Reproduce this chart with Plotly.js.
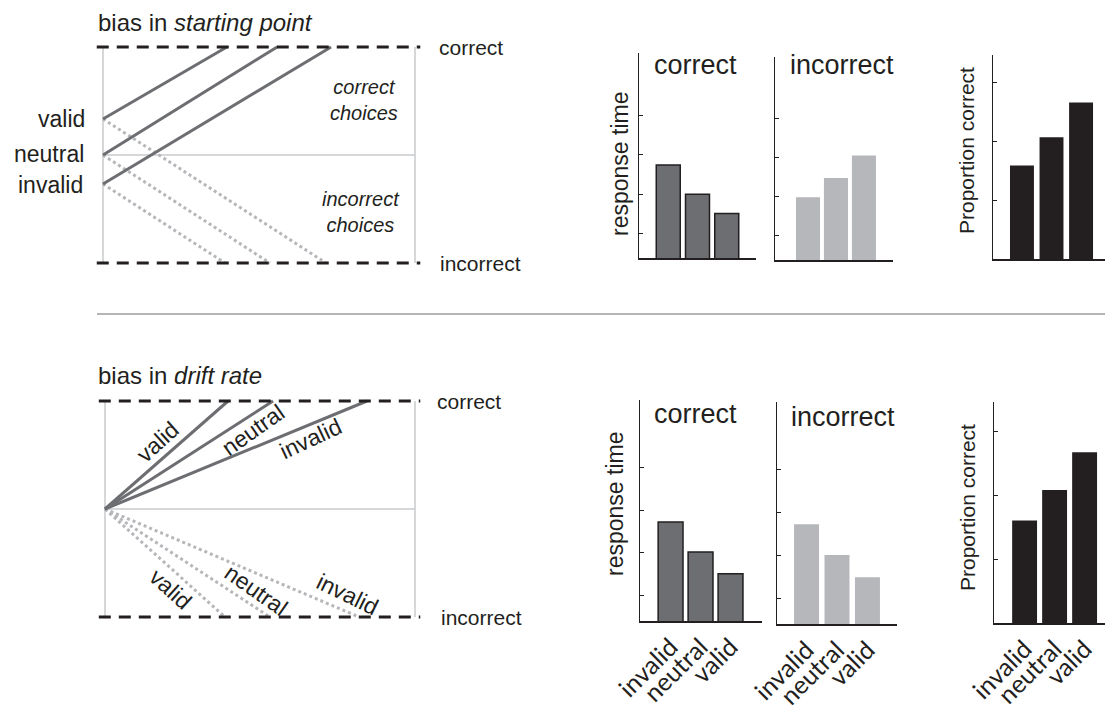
<!DOCTYPE html>
<html><head><meta charset="utf-8">
<script src="https://cdn.plot.ly/plotly-3.0.1.min.js"></script>
<style>html,body{margin:0;padding:0;background:#fff}#chart{width:1105px;height:715px}</style>
</head><body><div id="chart"></div>
<script>
// ---------------- data ----------------
const conditions = ['valid', 'neutral', 'invalid'];
// starting-point bias diagram (time 0..1, evidence 0 = incorrect bound, 1 = correct bound)
const spStart = [0.667, 0.5, 0.366];
const spTimeCorrect = [0.397, 0.558, 0.731];
const spTimeIncorrect = [0.715, 0.535, 0.391];
// drift-rate bias diagram
const drStart = [0.5, 0.5, 0.5];
const drTimeCorrect = [0.397, 0.542, 0.845];
const drTimeIncorrect = [0.387, 0.532, 0.82];
// bar charts
const barCats = ['invalid', 'neutral', 'valid'];
const spRTCorrect = [574, 500, 451];
const spRTIncorrect = [499, 548, 606];
const spPropCorrect = [0.659, 0.707, 0.766];
const drRTCorrect = [572, 502, 451];
const drRTIncorrect = [573, 501, 449];
const drPropCorrect = [0.661, 0.709, 0.768];
const rtTicks = [400, 500, 600, 700];
const pcTicks = [0.6, 0.7, 0.8];

// ---------------- styling / layout helpers ----------------
const W = 1105, H = 715;
const INK = '#231f20', SOLID = '#6d6e71', DOT = '#b6b7ba', FRAME = '#c9cacc';
const FONT = 'Liberation Sans, Arial, Helvetica, sans-serif';
const TICKFONT = 'Lato, Open Sans, sans-serif';
const px = x => x / W, py = y => 1 - y / H;
const xd = (a, b) => [a / W, Math.min(1, b / W)];
const yd = (top, bot) => [1 - bot / H, 1 - top / H];

const traces = [];
const layout = {
  width: W, height: H, margin: {l: 0, r: 0, t: 0, b: 0},
  paper_bgcolor: '#fff', plot_bgcolor: 'rgba(0,0,0,0)', showlegend: false,
  font: {family: FONT, color: INK},
  shapes: [], annotations: []
};

// diagram axes: pixel anchors of t=0, t=1, e=1 (top), e=0 (bottom)
const TR = [-0.06, 1.06], ER = [-0.08, 1.08];
function diagramAxes(n, t0, t1, eTop, eBot) {
  const sx = t1 - t0, sy = eBot - eTop;
  layout['xaxis' + n] = {domain: xd(t0 + TR[0] * sx, t0 + TR[1] * sx), range: TR, visible: false, fixedrange: true, anchor: 'y' + n};
  layout['yaxis' + n] = {domain: yd(eBot - ER[1] * sy, eBot - ER[0] * sy), range: ER, visible: false, fixedrange: true, anchor: 'x' + n};
}
diagramAxes(1, 103, 415, 47, 263);
diagramAxes(2, 105, 415, 401, 617);

function diagram(n, start, tC, tI) {
  const xr = n === 1 ? 'x' : 'x' + n, yr = n === 1 ? 'y' : 'y' + n;
  // frame
  [[0, 0, 0, 1], [1, 1, 0, 1], [0, 1, 0.5, 0.5]].forEach(s => layout.shapes.push({
    type: 'line', xref: xr, yref: yr, x0: s[0], x1: s[1], y0: s[2], y1: s[3],
    line: {color: FRAME, width: 1.5}, layer: 'below'}));
  // incorrect paths (dotted)
  start.forEach((s, i) => traces.push({type: 'scatter', mode: 'lines', xaxis: xr, yaxis: yr,
    x: [0, tI[i]], y: [s, 0], line: {color: DOT, width: 3, dash: '3px,3px'}, hoverinfo: 'skip'}));
  // correct paths (solid)
  start.forEach((s, i) => traces.push({type: 'scatter', mode: 'lines', xaxis: xr, yaxis: yr,
    x: [0, tC[i]], y: [s, 1], line: {color: SOLID, width: 3}, hoverinfo: 'skip'}));
  // bounds
  [0, 1].forEach(b => layout.shapes.push({type: 'line', xref: xr, yref: yr, x0: -0.02, x1: 1.017, y0: b, y1: b,
    line: {color: INK, width: 3, dash: '12px,8px'}}));
}
diagram(1, spStart, spTimeCorrect, spTimeIncorrect);
diagram(2, drStart, drTimeCorrect, drTimeIncorrect);

// bar chart subplots
const panels = [
  {n: 3, vals: spRTCorrect,   color: SOLID, outline: true,  xdom: [639, 756], ydom: [53, 258],  xr: [-1, 3],       w: 0.82, ticks: rtTicks, yr: [338, 858], labels: false},
  {n: 4, vals: spRTIncorrect, color: DOT,   outline: false, xdom: [775, 893], ydom: [57, 260],  xr: [-1.18, 3.04], w: 0.86, ticks: rtTicks, yr: [338, 858], labels: false},
  {n: 5, vals: spPropCorrect, color: INK,   outline: false, xdom: [993, 1105], ydom: [55, 259], xr: [-0.98, 2.81], w: 0.81, ticks: pcTicks, yr: [0.5, 0.847], labels: false},
  {n: 6, vals: drRTCorrect,   color: SOLID, outline: true,  xdom: [640, 762], ydom: [400, 621], xr: [-1.02, 3.05], w: 0.83, ticks: rtTicks, yr: [340, 858], labels: true},
  {n: 7, vals: drRTIncorrect, color: DOT,   outline: false, xdom: [777, 897], ydom: [402, 624], xr: [-0.97, 2.97], w: 0.82, ticks: rtTicks, yr: [340, 858], labels: true},
  {n: 8, vals: drPropCorrect, color: INK,   outline: false, xdom: [994, 1105], ydom: [402, 623], xr: [-1.02, 2.68], w: 0.83, ticks: pcTicks, yr: [0.5, 0.847], labels: true}
];
panels.forEach(p => {
  traces.push({type: 'bar', x: barCats, y: p.vals, xaxis: 'x' + p.n, yaxis: 'y' + p.n, width: p.w,
    marker: {color: p.color, line: {color: p.outline ? INK : p.color, width: p.outline ? 1.5 : 0}}, hoverinfo: 'skip'});
  layout['xaxis' + p.n] = {domain: xd(p.xdom[0], p.xdom[1]), anchor: 'y' + p.n, type: 'category', range: p.xr,
    showline: true, linecolor: INK, linewidth: 1.5, showgrid: false, zeroline: false, ticks: '',
    tickmode: 'array', tickvals: barCats, ticktext: barCats,
    showticklabels: p.labels, tickangle: -45, tickfont: {family: TICKFONT, size: 25, color: INK}, fixedrange: true};
  layout['yaxis' + p.n] = {domain: yd(p.ydom[0], p.ydom[1]), anchor: 'x' + p.n, range: p.yr,
    showline: true, linecolor: INK, linewidth: 1.5, showgrid: false, zeroline: false,
    tickmode: 'array', tickvals: p.ticks, ticks: 'inside', ticklen: 4, tickwidth: 1, tickcolor: INK,
    showticklabels: false, fixedrange: true};
});

// separator
layout.shapes.push({type: 'line', xref: 'paper', yref: 'paper', x0: px(97), x1: 1, y0: py(314), y1: py(314),
  line: {color: '#b5b5b5', width: 2}});

// text
function ann(text, x, y, o) {
  layout.annotations.push(Object.assign({text, x: px(x), y: py(y), xref: 'paper', yref: 'paper', showarrow: false,
    xanchor: 'center', yanchor: 'middle', font: {family: FONT, size: 23, color: INK}}, o || {}));
}
ann('bias in <i>starting point</i>', 96, 22, {xanchor: 'left', font: {family: FONT, size: 24, color: INK}});
ann('valid', 87, 119, {xanchor: 'right'});
ann('neutral', 86, 154, {xanchor: 'right'});
ann('invalid', 85, 185, {xanchor: 'right'});
ann('correct', 437, 47, {xanchor: 'left', font: {family: FONT, size: 21, color: INK}});
ann('incorrect', 438, 263, {xanchor: 'left', font: {family: FONT, size: 21, color: INK}});
ann('<i>correct<br>choices</i>', 364, 99.5, {font: {family: FONT, size: 20, color: INK}});
ann('<i>incorrect<br>choices</i>', 361, 211.5, {font: {family: FONT, size: 20, color: INK}});

ann('bias in <i>drift rate</i>', 96, 375, {xanchor: 'left', font: {family: FONT, size: 24, color: INK}});
ann('correct', 435, 401, {xanchor: 'left', font: {family: FONT, size: 21, color: INK}});
ann('incorrect', 439, 617, {xanchor: 'left', font: {family: FONT, size: 21, color: INK}});
ann('valid', 157.5, 442, {textangle: -42});
ann('neutral', 253, 430, {textangle: -35});
ann('invalid', 310, 439, {textangle: -25});
ann('valid', 170.6, 589, {textangle: 42});
ann('neutral', 256, 590, {textangle: 35});
ann('invalid', 347, 594, {textangle: 26});

ann('correct', 695, 65, {font: {family: FONT, size: 27, color: INK}});
ann('incorrect', 842, 65, {font: {family: FONT, size: 27, color: INK}});
ann('correct', 695.5, 414, {font: {family: FONT, size: 27, color: INK}});
ann('incorrect', 842.5, 417, {font: {family: FONT, size: 27, color: INK}});
ann('response time', 620, 164, {textangle: -90});
ann('response time', 615, 504, {textangle: -90});
ann('Proportion correct', 967, 151, {textangle: -90, font: {family: FONT, size: 21, color: INK}});
ann('Proportion correct', 967, 508, {textangle: -90, font: {family: FONT, size: 21, color: INK}});

Plotly.newPlot('chart', traces, layout, {staticPlot: true, displayModeBar: false});
</script></body></html>
